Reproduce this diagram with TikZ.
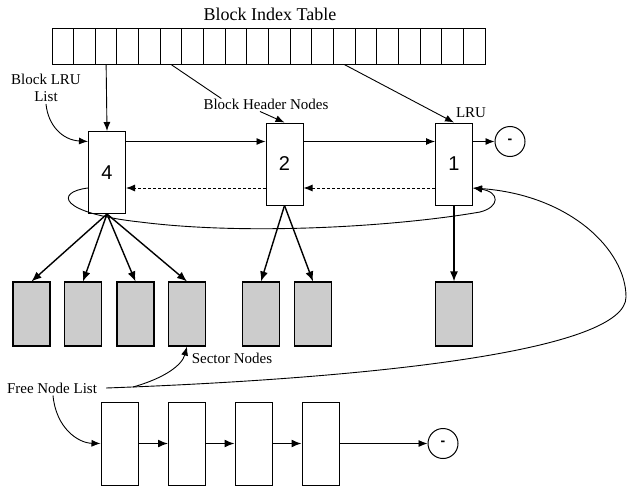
\documentclass[tikz,border=0pt]{standalone}
\usepackage{fontspec}
\setmainfont{Liberation Serif}
\newfontfamily\numfont{Liberation Sans}
\usetikzlibrary{positioning,arrows.meta}
\tikzstyle{cell}=[draw,line width=1pt,minimum width=21.65pt,minimum height=35pt,inner sep=0pt]
\tikzstyle{header}=[draw,line width=1pt,minimum width=37pt,minimum height=82pt,inner sep=0pt,
    font=\numfont\fontsize{20}{22}\selectfont]
\tikzstyle{sector}=[draw,line width=1.1pt,fill=black!20,minimum width=37pt,minimum height=64pt,inner sep=0pt]
\tikzstyle{freebox}=[draw,line width=1pt,minimum width=37pt,minimum height=83pt,inner sep=0pt]
\tikzstyle{nil}=[draw,circle,line width=1pt,minimum size=30pt,inner sep=0pt,font=\numfont\bfseries\fontsize{14}{16}\selectfont]
\tikzstyle{lbl}=[font=\fontsize{15}{17}\selectfont,inner sep=2pt]
\tikzstyle{link}=[-{Latex[length=9pt,width=7pt]},line width=0.9pt]
\tikzstyle{back}=[-{Latex[length=9pt,width=7pt]},line width=0.9pt,densely dashed]
\tikzstyle{thicklink}=[-{Latex[length=10pt,width=8pt]},line width=1.4pt]

\begin{document}
\begin{tikzpicture}[x=1pt,y=-1pt]
\useasboundingbox (0,0) rectangle (628,487);
%index table
\node[font=\fontsize{18}{20}\selectfont] (title) at (270,14) {Block Index Table};
\foreach \i in {1,...,20}
  \node[cell] (c\i) at ({52+(\i-0.5)*21.65},46.5) {};
%block header nodes
\node[header] (b4) at (107,172.5) {4};
\node[header] (b2) at (284.5,164) {2};
\node[header] (b1) at (454,164) {1};
\node[nil] (nil1) at (510,141.5) {-};
\node[lbl,align=center] (lrulist) at (46,88) {Block LRU\\List};
\node[lbl] (bhn) at (266,104) {Block Header Nodes};
\node[lbl] (lru) at (471,113) {LRU};
\coordinate (fw) at (0,141.5);
\coordinate (bw) at (0,188);
%sector nodes
\node[sector] (s1) at (31.5,314) {};
\node[sector] (s2) at (83,314) {};
\node[sector] (s3) at (135.5,314) {};
\node[sector] (s4) at (187,314) {};
\node[sector] (s5) at (261,314) {};
\node[sector] (s6) at (313,314) {};
\node[sector] (s7) at (454,314) {};
\node[lbl] (snl) at (232,358) {Sector Nodes};
%free list
\node[lbl] (fnl) at (52,388) {Free Node List};
\node[freebox] (f1) at (119.5,443.5) {};
\node[freebox] (f2) at (187,443.5) {};
\node[freebox] (f3) at (253.5,443.5) {};
\node[freebox] (f4) at (320.5,443.5) {};
\node[nil] (nil2) at (443,443.5) {-};
\coordinate (fork) at (133,387);

%table pointers
\draw[link] (c3.south) -- (b4.north);
\draw[line width=0.9pt] (c6.south) -- ([xshift=20pt,yshift=-2pt]bhn.north west);
\draw[link] ([xshift=-6pt]bhn.south) -- (b2.north);
\draw[link] (c14.south) -- (b1.north);
%lru list
\draw[link] (lrulist.south) .. controls (48,125) and (62,140) .. (b4.west |- fw);
\draw[link] (b4.east |- fw) -- (b2.west |- fw);
\draw[link] (b2.east |- fw) -- (b1.west |- fw);
\draw[link] (b1.east |- fw) -- (nil1.west);
\draw[back] (b2.west |- bw) -- (b4.east |- bw);
\draw[back] (b1.west |- bw) -- (b2.east |- bw);
\draw[link] (b4.west |- bw) .. controls (55,192) and (58,213) .. (140,222)
  .. controls (250,236) and (400,226) .. (480,212)
  .. controls (500,207) and (500,192) .. (b1.east |- bw);
%sector pointers
\foreach \s in {s1,s2,s3,s4}
  \draw[thicklink] (b4.south) -- (\s.north);
\foreach \s in {s5,s6}
  \draw[thicklink] (b2.south) -- (\s.north);
\draw[thicklink] (b1.south) -- (s7.north);
%free node list
\draw[link] ([xshift=7pt]fnl.east) .. controls (380,378) and (626,350) .. (626,297)
  .. controls (626,250) and (570,195) .. (b1.east |- bw);
\draw[link] (fork) .. controls (165,378) and (182,365) .. (s4.south);
\draw[link] ([xshift=1pt]fnl.south) .. controls (56,428) and (78,443) .. (f1.west);
\draw[thicklink] (f1.east) -- (f2.west);
\draw[thicklink] (f2.east) -- (f3.west);
\draw[thicklink] (f3.east) -- (f4.west);
\draw[link] (f4.east) -- (nil2.west);
\end{tikzpicture}
\end{document}
